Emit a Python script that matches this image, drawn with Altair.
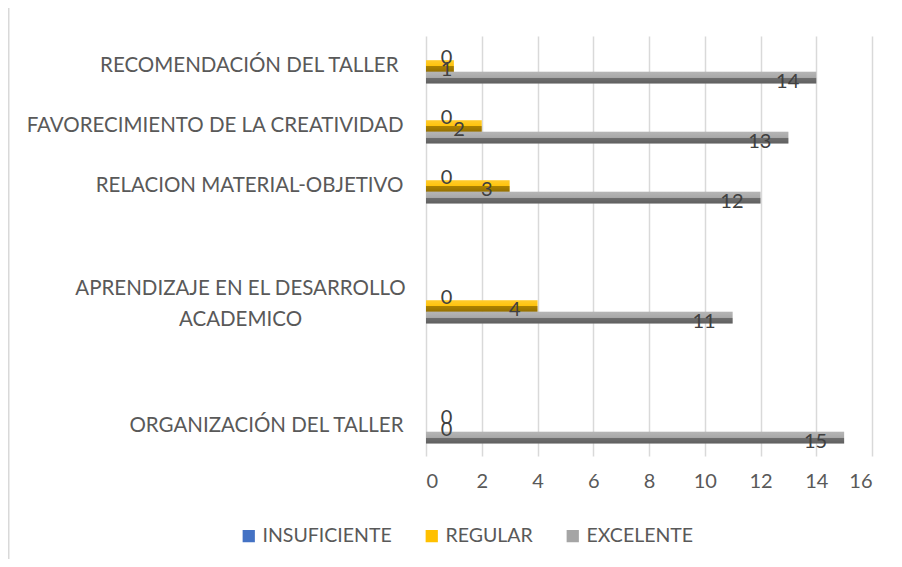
import altair as alt
import pandas as pd

# ---- data ----
categories = [
    "ORGANIZACIÓN DEL TALLER",
    "APRENDIZAJE EN EL DESARROLLO ACADEMICO",
    "RELACION MATERIAL-OBJETIVO",
    "FAVORECIMIENTO DE LA CREATIVIDAD",
    "RECOMENDACIÓN DEL TALLER",
]
insuficiente = [0, 0, 0, 0, 0]
regular = [0, 4, 3, 2, 1]
excelente = [15, 11, 12, 13, 14]
series = ["INSUFICIENTE", "REGULAR", "EXCELENTE"]
series_colors = ["#4472C4", "#FFC000", "#A5A5A5"]
x_ticks = [0, 2, 4, 6, 8, 10, 12, 14, 16]
# top-to-bottom order of category slots (two empty slots as in the original)
y_order = [
    "RECOMENDACIÓN DEL TALLER",
    "FAVORECIMIENTO DE LA CREATIVIDAD",
    "RELACION MATERIAL-OBJETIVO",
    " ",
    "APRENDIZAJE EN EL DESARROLLO ACADEMICO",
    "  ",
    "ORGANIZACIÓN DEL TALLER",
]
WRAPPED = "APRENDIZAJE EN EL DESARROLLO ACADEMICO"

rows = []
for i, c in enumerate(categories):
    for s, vals in zip(series, [insuficiente, regular, excelente]):
        rows.append({"categoria": c, "serie": s, "valor": vals[i]})
df = pd.DataFrame(rows)

FONT = "Lato"
FS_Y = 20.5
FS = 20

test_wrapped = "datum.value == '" + WRAPPED + "'"
test_reco = "datum.value == 'RECOMENDACIÓN DEL TALLER'"

y_enc = alt.Y(
    "categoria:N",
    sort=y_order,
    scale=alt.Scale(domain=y_order, paddingInner=0.42, paddingOuter=0.21),
    axis=alt.Axis(
        title=None, domain=False, ticks=False, grid=False,
        labelFont=FONT, labelFontSize=FS_Y, labelColor="#595959",
        labelAlign={"condition": {"test": test_wrapped, "value": "center"}, "value": "right"},
        labelPadding={"condition": [
            {"test": test_wrapped, "value": 186},
            {"test": test_reco, "value": 28},
        ], "value": 23},
        labelOffset={"condition": {"test": test_wrapped, "value": -17}, "value": 0},
        labelLimit=500,
        labelLineHeight=31,
        labelExpr=(
            "datum.value == '" + WRAPPED + "' ? "
            "['APRENDIZAJE EN EL DESARROLLO', 'ACADEMICO'] : datum.label"
        ),
    ),
)
yoff = alt.YOffset("serie:N", sort=series, scale=alt.Scale(domain=series, paddingInner=0, paddingOuter=0))
x_scale = alt.Scale(domain=[0, 16], nice=False)
x_axis = alt.Axis(
    title=None, values=x_ticks, domain=False, ticks=False, grid=True,
    gridColor="#D9D9D9", gridWidth=1.5,
    labelFont=FONT, labelFontSize=FS, labelColor="#595959", labelPadding=15,
)

base = alt.Chart(df)

bars = base.mark_bar(size=11.6).encode(
    x=alt.X("valor:Q", scale=x_scale, axis=x_axis),
    y=y_enc,
    yOffset=yoff,
    color=alt.Color(
        "serie:N",
        sort=series,
        scale=alt.Scale(domain=series, range=series_colors),
        legend=alt.Legend(
            title=None, orient="none", direction="horizontal",
            legendX=-187, legendY=490, padding=0,
            symbolType="square", symbolSize=150, symbolStrokeWidth=0,
            labelFont=FONT, labelFontSize=19.5, labelColor="#595959",
            labelOffset=4, columnPadding=30,
        ),
    ),
)

shade = alt.LinearGradient(
    gradient="linear", x1=0, y1=0, x2=0, y2=1,
    stops=[
        alt.GradientStop(color="rgba(255,255,255,0.18)", offset=0),
        alt.GradientStop(color="rgba(255,255,255,0.05)", offset=0.48),
        alt.GradientStop(color="rgba(0,0,0,0.33)", offset=0.52),
        alt.GradientStop(color="rgba(0,0,0,0.42)", offset=1),
    ],
)
overlay = base.mark_bar(size=11.6, fill=shade).encode(
    x=alt.X("valor:Q", scale=x_scale, axis=x_axis),
    y=y_enc,
    yOffset=yoff,
)

labels = base.transform_calculate(
    pos="max(datum.valor - 0.61, 0.95)"
).mark_text(
    align="right", baseline="middle", dy=4, font=FONT, fontSize=FS, color="#404040"
).encode(
    x=alt.X("pos:Q", scale=x_scale, axis=x_axis),
    y=y_enc,
    yOffset=yoff,
    text="valor:Q",
)

frame = alt.Chart(pd.DataFrame({"k": [0]})).mark_rule(color="#D9D9D9", strokeWidth=2).encode(
    x=alt.value(-417.5), y=alt.value(-28), y2=alt.value(531)
)

chart = alt.layer(bars, overlay, labels, frame).properties(
    width=446,
    height=420,
    padding={"left": 418, "top": 28, "right": 22, "bottom": 103},
    autosize=alt.AutoSizeParams(type="none"),
    background="white",
).configure_view(stroke=None)

chart.save("out.html", embed_options={"renderer": "svg", "actions": False})
